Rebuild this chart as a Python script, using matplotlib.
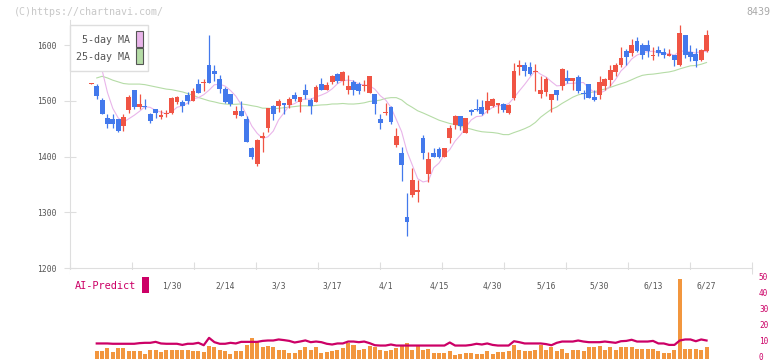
import numpy as np
import matplotlib
matplotlib.use('Agg')
import matplotlib.pyplot as plt
from matplotlib.patches import Rectangle
import matplotlib.transforms as mtransforms

# OHLC (116 sessions)
opens = [1530, 1526, 1501, 1470, 1467, 1468, 1455, 1484, 1519, 1489, 1491, 1477, 1485, 1471, 1477, 1479,
         1498, 1498, 1510, 1500, 1530, 1532, 1564, 1553, 1540, 1521, 1513, 1474, 1481, 1468, 1415, 1386,
         1433, 1451, 1490, 1490, 1496, 1492, 1511, 1498, 1519, 1501, 1498, 1530, 1520, 1534, 1548, 1536,
         1520, 1533, 1530, 1527, 1514, 1512, 1467, 1479, 1488, 1420, 1407, 1292, 1331, 1337, 1433, 1368,
         1407, 1413, 1400, 1433, 1456, 1472, 1443, 1483, 1485, 1488, 1483, 1491, 1493, 1494, 1478, 1505,
         1561, 1564, 1560, 1551, 1512, 1516, 1501, 1520, 1527, 1541, 1536, 1542, 1514, 1530, 1506, 1511,
         1526, 1537, 1552, 1564, 1589, 1585, 1607, 1600, 1600, 1581, 1591, 1587, 1580, 1582, 1564, 1618,
         1587, 1584, 1574, 1589]
highs = [1532, 1531, 1505, 1477, 1476, 1468, 1477, 1510, 1519, 1512, 1503, 1479, 1485, 1483, 1484, 1506,
         1509, 1501, 1516, 1523, 1540, 1540, 1618, 1564, 1547, 1524, 1513, 1490, 1499, 1473, 1418, 1432,
         1444, 1487, 1493, 1503, 1496, 1507, 1516, 1507, 1530, 1505, 1528, 1541, 1533, 1546, 1550, 1554,
         1546, 1537, 1533, 1538, 1544, 1512, 1477, 1496, 1490, 1452, 1418, 1334, 1380, 1358, 1438, 1409,
         1415, 1418, 1415, 1457, 1475, 1472, 1470, 1486, 1504, 1501, 1515, 1505, 1496, 1496, 1494, 1568,
         1573, 1569, 1569, 1566, 1544, 1542, 1513, 1520, 1559, 1555, 1541, 1546, 1519, 1530, 1519, 1544,
         1541, 1564, 1568, 1596, 1593, 1611, 1614, 1604, 1609, 1596, 1598, 1594, 1593, 1582, 1636, 1618,
         1601, 1594, 1593, 1627]
lows = [1530, 1504, 1476, 1452, 1452, 1444, 1446, 1478, 1486, 1486, 1486, 1461, 1469, 1467, 1471, 1477,
        1494, 1480, 1494, 1500, 1514, 1517, 1532, 1535, 1514, 1496, 1490, 1470, 1473, 1426, 1395, 1383,
        1409, 1444, 1466, 1480, 1477, 1487, 1500, 1480, 1503, 1477, 1498, 1520, 1520, 1531, 1532, 1529,
        1512, 1510, 1512, 1518, 1514, 1477, 1449, 1474, 1459, 1418, 1357, 1258, 1327, 1318, 1395, 1355,
        1400, 1398, 1400, 1424, 1449, 1447, 1443, 1474, 1481, 1474, 1479, 1489, 1479, 1480, 1477, 1501,
        1546, 1544, 1546, 1518, 1505, 1509, 1480, 1502, 1520, 1532, 1520, 1514, 1503, 1505, 1499, 1503,
        1520, 1526, 1544, 1561, 1565, 1581, 1587, 1575, 1579, 1574, 1581, 1577, 1580, 1563, 1563, 1577,
        1572, 1561, 1572, 1587]
closes = [1531, 1509, 1476, 1458, 1458, 1446, 1471, 1506, 1489, 1494, 1488, 1464, 1479, 1474, 1478, 1505,
          1506, 1491, 1500, 1517, 1514, 1533, 1532, 1548, 1522, 1497, 1494, 1481, 1473, 1426, 1399, 1429,
          1436, 1487, 1477, 1500, 1492, 1503, 1503, 1507, 1511, 1490, 1524, 1520, 1528, 1545, 1536, 1551,
          1526, 1519, 1518, 1529, 1544, 1494, 1461, 1480, 1462, 1436, 1384, 1283, 1358, 1340, 1407, 1395,
          1400, 1400, 1415, 1452, 1472, 1454, 1470, 1480, 1483, 1476, 1499, 1503, 1496, 1484, 1492, 1553,
          1564, 1554, 1548, 1553, 1519, 1539, 1513, 1510, 1557, 1536, 1541, 1518, 1512, 1505, 1501, 1533,
          1539, 1555, 1564, 1577, 1579, 1600, 1590, 1583, 1590, 1582, 1586, 1582, 1584, 1574, 1622, 1582,
          1578, 1572, 1591, 1618]

ma5 = [1610, 1585, 1555, 1515, 1486.4, 1469.4, 1461.8, 1467.8, 1474.0, 1481.2, 1489.6, 1488.2, 1482.8,
       1479.8, 1476.6, 1480.0, 1488.4, 1490.8, 1496.0, 1503.8, 1505.6, 1511.0, 1519.2, 1528.8, 1529.8,
       1526.4, 1518.6, 1508.4, 1493.4, 1474.2, 1454.6, 1441.6, 1432.6, 1435.4, 1445.6, 1465.8, 1478.4,
       1491.8, 1495.0, 1501.0, 1503.2, 1502.8, 1507.0, 1510.4, 1514.6, 1521.4, 1530.6, 1536.0, 1537.2,
       1535.4, 1530.0, 1528.6, 1527.2, 1520.8, 1509.2, 1501.6, 1488.2, 1466.6, 1444.6, 1409.0, 1384.6,
       1360.2, 1354.4, 1356.6, 1380.0, 1388.4, 1403.4, 1412.4, 1427.8, 1438.6, 1452.6, 1465.6, 1471.8,
       1472.6, 1481.6, 1488.2, 1491.4, 1491.6, 1494.8, 1505.6, 1517.8, 1529.4, 1542.2, 1554.4, 1547.6,
       1542.6, 1534.4, 1526.8, 1527.6, 1531.0, 1531.4, 1532.4, 1532.8, 1522.4, 1515.4, 1513.8, 1518.0,
       1526.6, 1538.4, 1553.6, 1562.8, 1575.0, 1582.0, 1585.8, 1588.4, 1589.0, 1586.2, 1584.6, 1584.8,
       1581.6, 1589.6, 1588.8, 1588.0, 1585.6, 1589.0, 1588.2]
ma25 = [np.nan, 1541, 1544, 1541, 1537, 1534, 1531, 1530, 1530, 1530, 1529, 1527, 1525, 1523, 1521, 1520,
        1518, 1516, 1513, 1510, 1506, 1503, 1500, 1498, 1495.6, 1494.2, 1493.6, 1493.8, 1494.4, 1493.1,
        1491.2, 1489.6, 1486.8, 1486.7, 1486.0, 1486.5, 1487.6, 1488.6, 1489.7, 1490.9, 1491.1, 1490.5,
        1491.8, 1492.6, 1493.0, 1494.3, 1494.4, 1495.2, 1494.3, 1494.2, 1495.0, 1496.4, 1498.9, 1499.8,
        1501.2, 1504.4, 1505.7, 1505.7, 1501.6, 1493.8, 1488.2, 1482.1, 1478.2, 1473.9, 1469.6, 1465.2,
        1462.2, 1459.3, 1457.4, 1454.4, 1451.4, 1449.2, 1446.5, 1444.5, 1443.7, 1443.1, 1441.8, 1439.4,
        1439.3, 1443.0, 1446.3, 1450.0, 1454.5, 1461.2, 1470.7, 1477.9, 1484.8, 1489.0, 1495.4, 1500.9,
        1506.5, 1510.6, 1513.0, 1514.4, 1516.2, 1518.8, 1521.1, 1524.0, 1527.5, 1530.6, 1533.7, 1537.8,
        1542.1, 1545.7, 1547.2, 1547.9, 1549.2, 1550.6, 1551.8, 1554.0, 1557.3, 1560.1, 1562.8, 1563.4,
        1565.6, 1568.7]

# lower panel, sessions 1..115
volume = [4.6, 4.6, 6.3, 3.8, 6.3, 6.3, 4.6, 4.6, 4.6, 3.1, 5.6, 5.2, 3.8, 5.2, 5.6, 5.2, 5.2, 5.2, 4.6,
          4.6, 3.8, 8.1, 7.1, 5.2, 4.6, 3.1, 4.6, 4.6, 8.5, 12.9, 10.5, 7.1, 7.7, 7.5, 5.2, 5.2, 3.75,
          3.75, 5.6, 6.9, 5.6, 7.1, 3.75, 4.0, 5.0, 5.6, 6.7, 9.4, 8.3, 5.6, 6.25, 8.1, 7.1, 5.6, 4.6,
          5.2, 6.5, 7.7, 9.4, 5.6, 7.7, 5.6, 6.0, 3.75, 3.75, 3.75, 4.4, 2.5, 2.9, 3.75, 3.75, 3.1, 3.1,
          5.0, 3.1, 4.0, 4.0, 4.4, 8.75, 5.2, 4.4, 4.4, 5.2, 8.3, 5.6, 7.3, 4.4, 6.25, 3.75, 5.2, 5.6,
          4.4, 6.9, 6.9, 8.1, 5.2, 7.3, 5.2, 6.9, 6.9, 7.5, 6.25, 6.25, 5.8, 6.25, 5.0, 3.75, 3.75, 5.6,
          50, 6.25, 6.25, 6.25, 5.6, 6.9]
ai_predict = [9.4, 9.4, 9.4, 9.2, 9.2, 9.2, 9.2, 9.2, 9.6, 9.8, 9.8, 10.4, 9.4, 9.2, 9.2, 9.2, 8.5, 9.2,
              9.2, 9.8, 8.3, 12.9, 10.2, 9.2, 9.2, 9.8, 9.4, 10.4, 10.4, 10.4, 10.4, 11.0, 11.25, 11.25,
              11.9, 11.5, 11.0, 10.0, 10.6, 11.3, 10.2, 10.6, 10.2, 9.2, 8.75, 9.4, 9.4, 10.6, 10.6, 10.2,
              10.6, 9.6, 8.3, 8.1, 8.1, 8.75, 8.1, 8.1, 8.1, 8.1, 8.1, 8.1, 8.1, 8.1, 8.1, 8.1, 10.0, 8.1,
              8.1, 8.1, 8.5, 9.2, 8.75, 9.4, 8.5, 8.1, 8.1, 8.1, 10.8, 10.2, 9.4, 9.4, 9.4, 9.4, 9.0, 8.3,
              9.8, 10.6, 10.6, 10.6, 11.25, 10.6, 10.2, 10.2, 10.2, 10.6, 10.2, 9.8, 10.8, 11.0, 11.7,
              10.6, 10.6, 10.6, 11.0, 9.4, 9.4, 8.5, 8.5, 11.25, 11.9, 11.9, 10.8, 11.9, 11.25]

date_labels = ['1/30', '2/14', '3/3', '3/17', '4/1', '4/15', '4/30', '5/16', '5/30', '6/13', '6/27']
date_idx = [15, 25, 35, 45, 55, 65, 75, 85, 95, 105, 115]

up_color = '#f05444'
down_color = '#4379ec'
grid_color = '#dedede'
text_color = '#555555'
magenta = '#cc0066'
mono = 'DejaVu Sans Mono'

x = np.arange(len(closes))
o = np.array(opens)
c = np.array(closes)
colors = [up_color if cc >= oo else down_color for oo, cc in zip(o, c)]

fig = plt.figure(figsize=(7.72, 3.61), dpi=100)
W, H = 772, 361
xmin, xmax = -4.0, 123.5

ax = fig.add_axes([70 / W, 1 - 268 / H, 682 / W, 248 / H])
ax.set_xlim(xmin, xmax)
ax.set_ylim(1200, 1645)

ax.plot(x, ma25, color='#b5dca6', lw=0.8, zorder=1)
ax.plot(x, ma5, color='#e9b5ea', lw=0.8, zorder=1)

ax.vlines(x, lows, highs, colors=colors, lw=0.9, zorder=2)
body_low = np.minimum(o, c)
body_h = np.maximum(np.abs(c - o), 1.8)
ax.bar(x, body_h, bottom=body_low, width=0.9, color=colors, linewidth=0, zorder=3)

for s in ['top', 'right']:
    ax.spines[s].set_visible(False)
for s in ['left', 'bottom']:
    ax.spines[s].set_color(grid_color)
ax.set_yticks([1200, 1300, 1400, 1500, 1600])
ax.set_yticklabels(['1200', '1300', '1400', '1500', '1600'], fontfamily=mono, fontsize=5.8, color=text_color)
ax.set_xticks(np.linspace(xmin, xmax, 12))
ax.set_xticklabels([])
ax.tick_params(axis='y', direction='inout', length=8, color=grid_color, pad=6)
ax.tick_params(axis='x', direction='inout', length=8, color=grid_color)

# legend box
fig.patches.append(Rectangle((70 / W, 1 - 71 / H), 78 / W, 46 / H, transform=fig.transFigure,
                             facecolor='white', edgecolor=grid_color, lw=1, zorder=5))
fig.patches.append(Rectangle((136 / W, 1 - 46.5 / H), 7 / W, 15 / H, transform=fig.transFigure,
                             facecolor='#e9b5ea', edgecolor='#555555', lw=0.8, zorder=6))
fig.patches.append(Rectangle((136 / W, 1 - 63.5 / H), 7 / W, 15 / H, transform=fig.transFigure,
                             facecolor='#b5dca6', edgecolor='#555555', lw=0.8, zorder=6))
fig.text(130 / W, 1 - 40 / H, '5-day MA', ha='right', va='center', fontfamily=mono, fontsize=7.2,
         color=text_color, zorder=7)
fig.text(130 / W, 1 - 57 / H, '25-day MA', ha='right', va='center', fontfamily=mono, fontsize=7.2,
         color=text_color, zorder=7)

fig.text(14 / W, 1 - 12 / H, '(C)https://chartnavi.com/', ha='left', va='center', fontfamily=mono,
         fontsize=7.2, color='#c8c8c8')
fig.text(770 / W, 1 - 12 / H, '8439', ha='right', va='center', fontfamily=mono, fontsize=7.2,
         color='#aaaaaa')

# volume / AI-Predict panel
ax2 = fig.add_axes([70 / W, 2.5 / H, 682 / W, 88.5 / H])
ax2.set_xlim(xmin, xmax)
ax2.set_ylim(0, 88.5 / 1.6)
vx = np.arange(1, len(closes))
ax2.bar(vx, volume, width=0.75, color='#f2963e', linewidth=0, zorder=2)
ax2.plot(vx, ai_predict, color=magenta, lw=1.6, zorder=3)
for s in ax2.spines.values():
    s.set_visible(False)
ax2.set_xticks([])
ax2.yaxis.tick_right()
ax2.set_yticks([0, 10, 20, 30, 40, 50])
ax2.set_yticklabels(['0', '10', '20', '30', '40', '50'], fontfamily=mono, fontsize=5.6, color=magenta)
ax2.tick_params(axis='y', length=0, pad=5)
shift = mtransforms.ScaledTranslation(0, 1.5 / 72, fig.dpi_scale_trans)
for lab in ax2.get_yticklabels():
    lab.set_transform(lab.get_transform() + shift)

trans = mtransforms.blended_transform_factory(ax2.transData, fig.transFigure)
for idx, lab in zip(date_idx, date_labels):
    ax2.text(idx, 1 - 286 / H, lab, ha='center', va='center', fontfamily=mono, fontsize=5.8,
             color=text_color, transform=trans)

fig.text(75 / W, 1 - 286 / H, 'AI-Predict', ha='left', va='center', fontfamily=mono, fontsize=7.4,
         color=magenta)
fig.patches.append(Rectangle((142 / W, 1 - 293 / H), 7 / W, 16 / H, transform=fig.transFigure,
                             facecolor=magenta, edgecolor='none'))

fig.savefig('out.png', dpi=100)
